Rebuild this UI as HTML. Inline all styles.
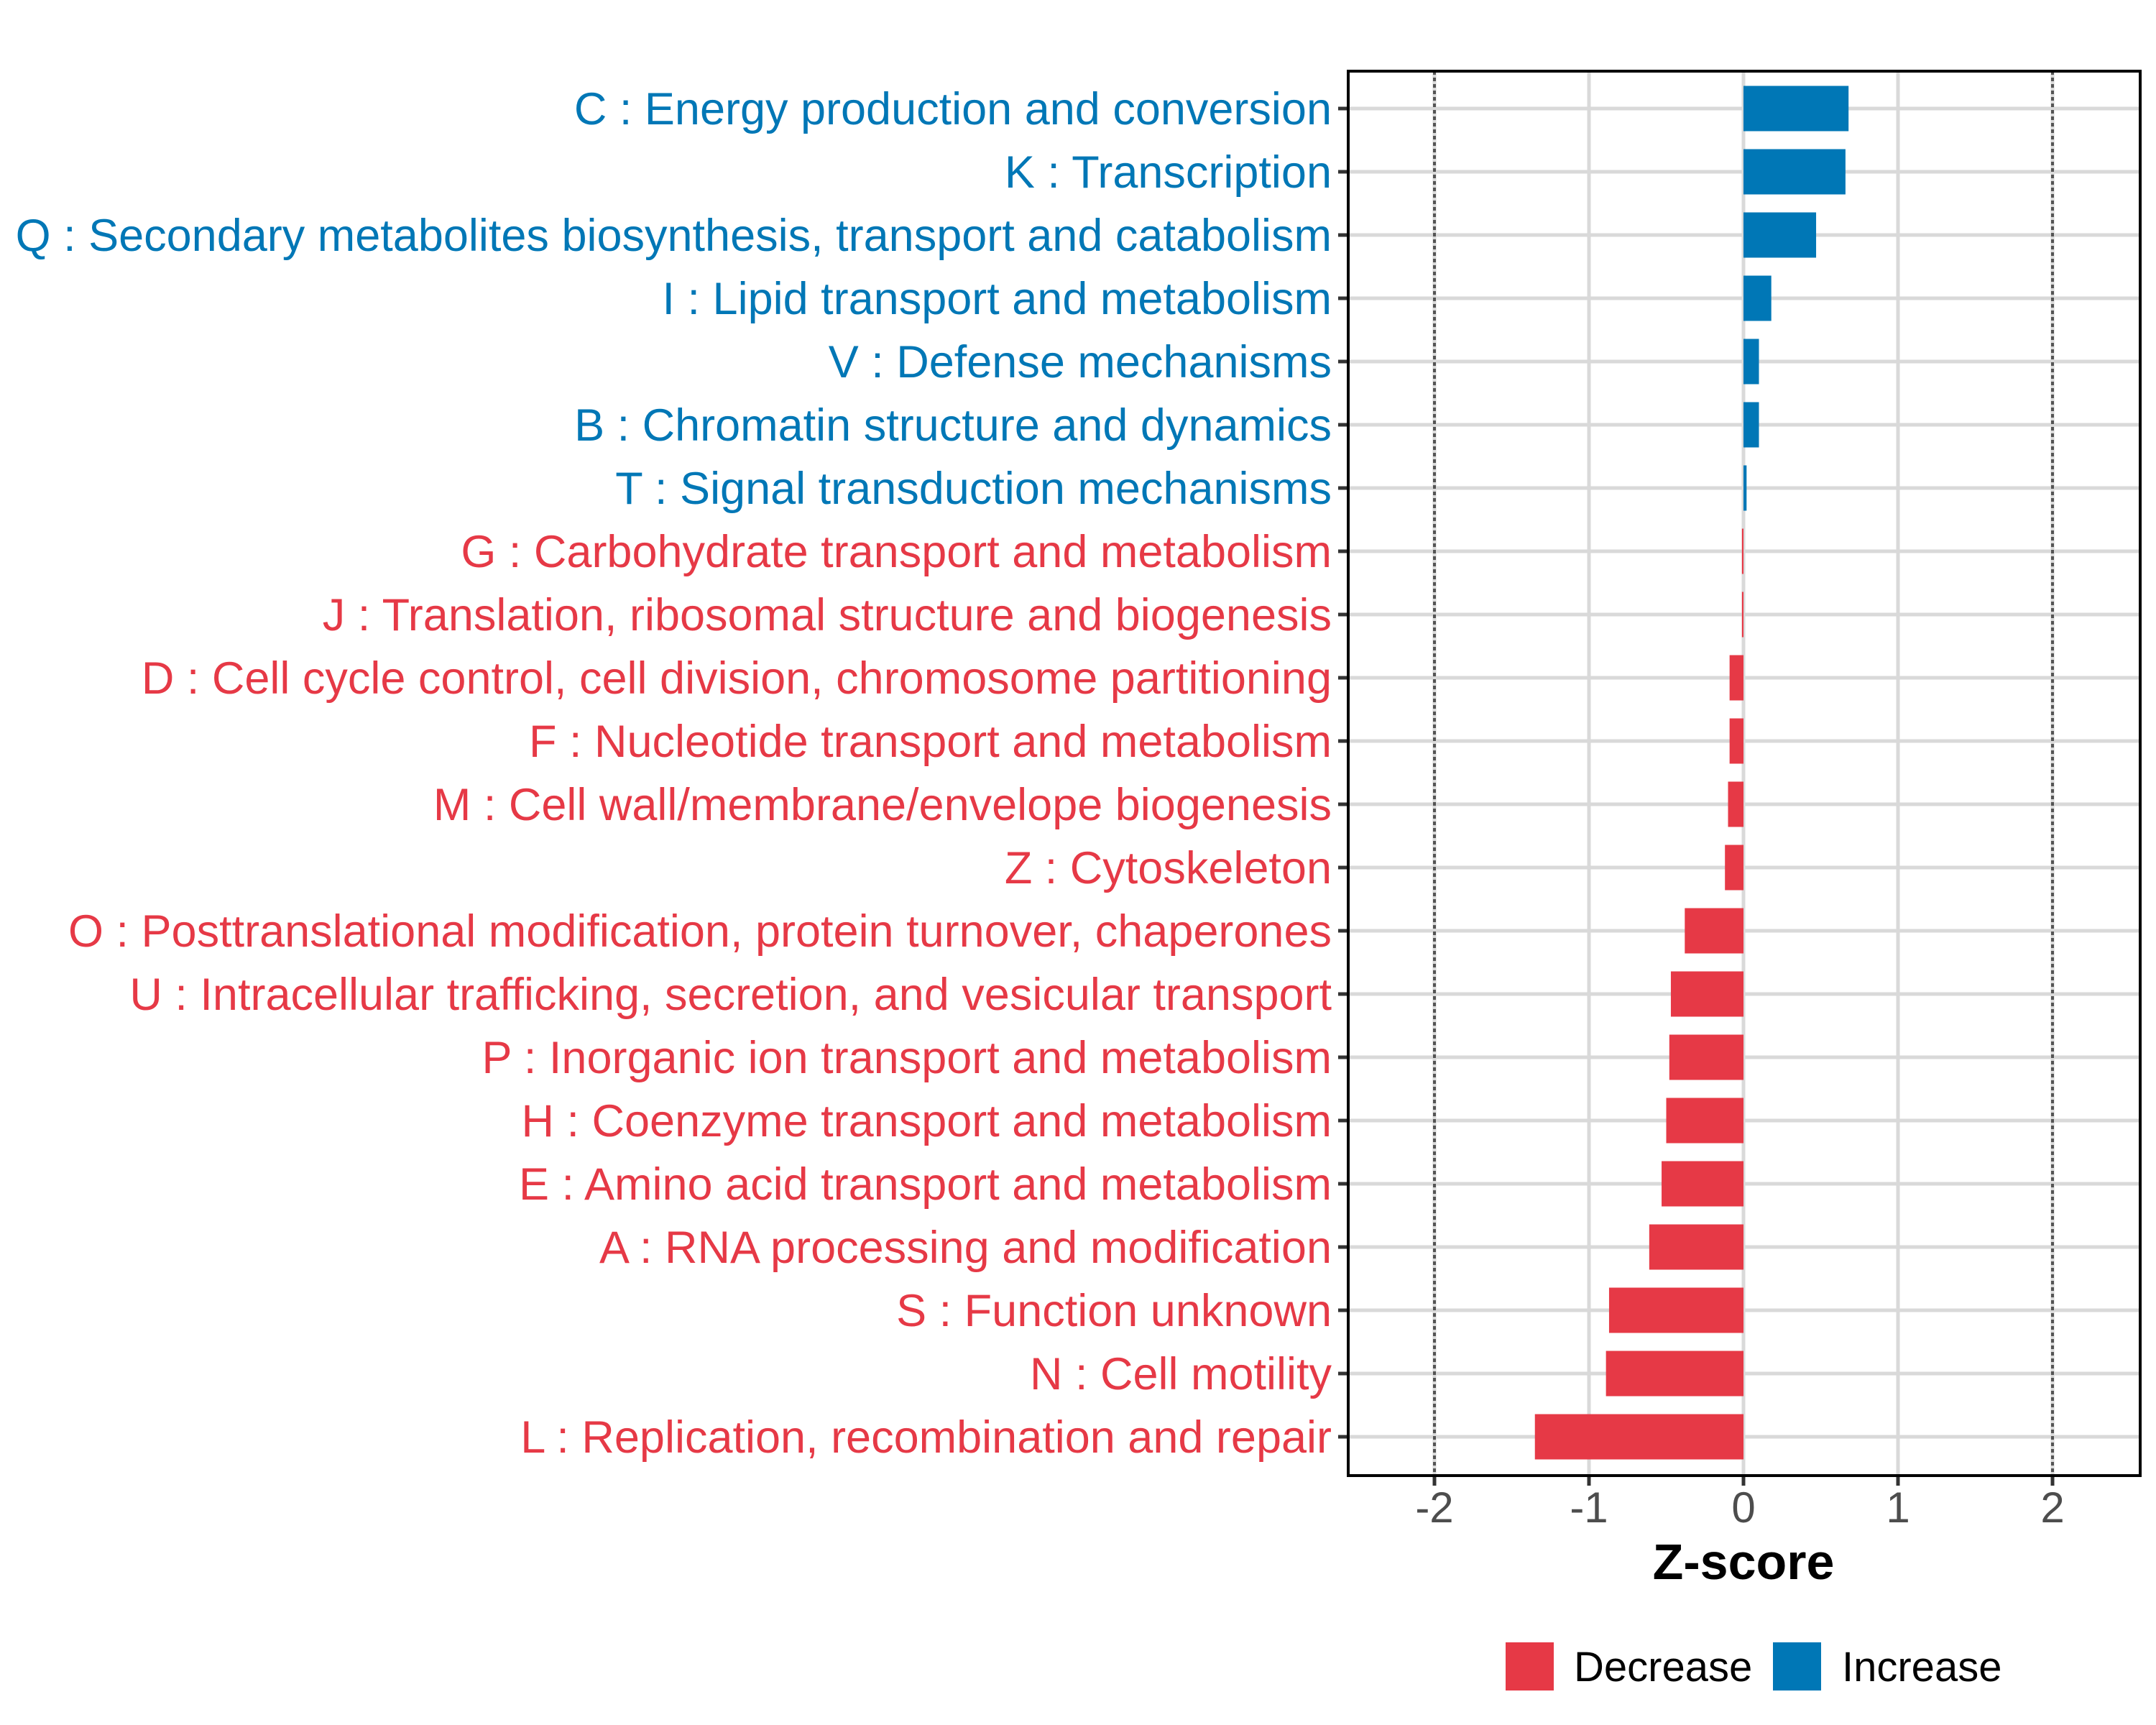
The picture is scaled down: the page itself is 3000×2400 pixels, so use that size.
<!DOCTYPE html>
<html><head><meta charset="utf-8"><style>
html,body{margin:0;padding:0;background:#fff;}
svg{display:block;font-family:"Liberation Sans",Arial,sans-serif;}
</style></head><body>
<svg id="chart" width="3000" height="2400" viewBox="0 0 3000 2400" xmlns="http://www.w3.org/2000/svg">
<rect width="3000" height="2400" fill="#fff"/>
<g id="grid"></g>
<g id="bars"></g>
<g id="ylabels"></g>
<g id="xaxis"></g>
<rect x="1876" y="99" width="1102" height="1954" fill="none" stroke="#000" stroke-width="4"/>
<text x="2426" y="2197" font-size="70" font-weight="bold" text-anchor="middle" fill="#000">Z-score</text>
<g>
<rect x="2095" y="2285" width="67" height="67" fill="#E63946"/>
<text x="2190" y="2339" font-size="58" fill="#000">Decrease</text>
<rect x="2467" y="2285" width="67" height="67" fill="#0077B6"/>
<text x="2563" y="2339" font-size="58" fill="#000">Increase</text>
</g>
</svg>
<script>
const categories = ["C : Energy production and conversion","K : Transcription","Q : Secondary metabolites biosynthesis, transport and catabolism","I : Lipid transport and metabolism","V : Defense mechanisms","B : Chromatin structure and dynamics","T : Signal transduction mechanisms","G : Carbohydrate transport and metabolism","J : Translation, ribosomal structure and biogenesis","D : Cell cycle control, cell division, chromosome partitioning","F : Nucleotide transport and metabolism","M : Cell wall/membrane/envelope biogenesis","Z : Cytoskeleton","O : Posttranslational modification, protein turnover, chaperones","U : Intracellular trafficking, secretion, and vesicular transport","P : Inorganic ion transport and metabolism","H : Coenzyme transport and metabolism","E : Amino acid transport and metabolism","A : RNA processing and modification","S : Function unknown","N : Cell motility","L : Replication, recombination and repair"];
const zscores = [0.68,0.66,0.47,0.18,0.10,0.10,0.02,-0.01,-0.01,-0.09,-0.09,-0.10,-0.12,-0.38,-0.47,-0.48,-0.50,-0.53,-0.61,-0.87,-0.89,-1.35];
const xTicks = [-2,-1,0,1,2];
const xTickLabels = ["-2","-1","0","1","2"];
const dottedRefs = [-2,2];

const NS="http://www.w3.org/2000/svg";
const X0=2426, UNIT=215, Y0=151, STEP=88, BARH=63, PL=1876, PR=2978, PT=99, PB=2053;
const BLUE="#0077B6", RED="#E63946";
function xs(v){return X0+v*UNIT;}
function ys(i){return Y0+i*STEP;}
function mk(tag,attrs,parent){const e=document.createElementNS(NS,tag);for(const k in attrs)e.setAttribute(k,attrs[k]);parent.appendChild(e);return e;}
const grid=document.getElementById('grid'),bars=document.getElementById('bars'),yl=document.getElementById('ylabels'),xa=document.getElementById('xaxis');
categories.forEach((c,i)=>{
  const l=mk('line',{x1:PL,x2:PR,y1:ys(i),y2:ys(i),stroke:'#d9d9d9','stroke-width':5},grid);
  
  
});
xTicks.forEach(v=>{
  const dotted=dottedRefs.includes(v);
  const l=mk('line',{x1:xs(v),x2:xs(v),y1:PT,y2:PB,stroke:'#d9d9d9','stroke-width':5},grid);
  
  
  if(dotted){
    const d=mk('line',{x1:xs(v),x2:xs(v),y1:PT,y2:PB,stroke:'#555','stroke-width':4,'stroke-dasharray':'5 4'},grid);
    
    
  }
});
zscores.forEach((v,i)=>{
  const col=v>=0?BLUE:RED;
  const x=Math.min(xs(0),xs(v)), w=Math.max(Math.abs(xs(v)-xs(0)),1.5);
  const r=mk('rect',{x:x,y:ys(i)-BARH/2,width:w,height:BARH,fill:col},bars);
  
  
  const t=mk('text',{x:1853,y:ys(i)+22,'font-size':63,'text-anchor':'end',fill:col},yl);
  t.textContent=categories[i];
  
  
  const tk=mk('line',{x1:1862,x2:1876,y1:ys(i),y2:ys(i),stroke:'#333','stroke-width':5},yl);
  
  
});
xTicks.forEach((v,i)=>{
  const tk=mk('line',{x1:xs(v),x2:xs(v),y1:PB,y2:PB+14,stroke:'#333','stroke-width':5},xa);
  
  
  const t=mk('text',{x:xs(v),y:2118,'font-size':60,'text-anchor':'middle',fill:'#4d4d4d'},xa);
  t.textContent=xTickLabels[i];
  
  
});
</script>
</body></html>
